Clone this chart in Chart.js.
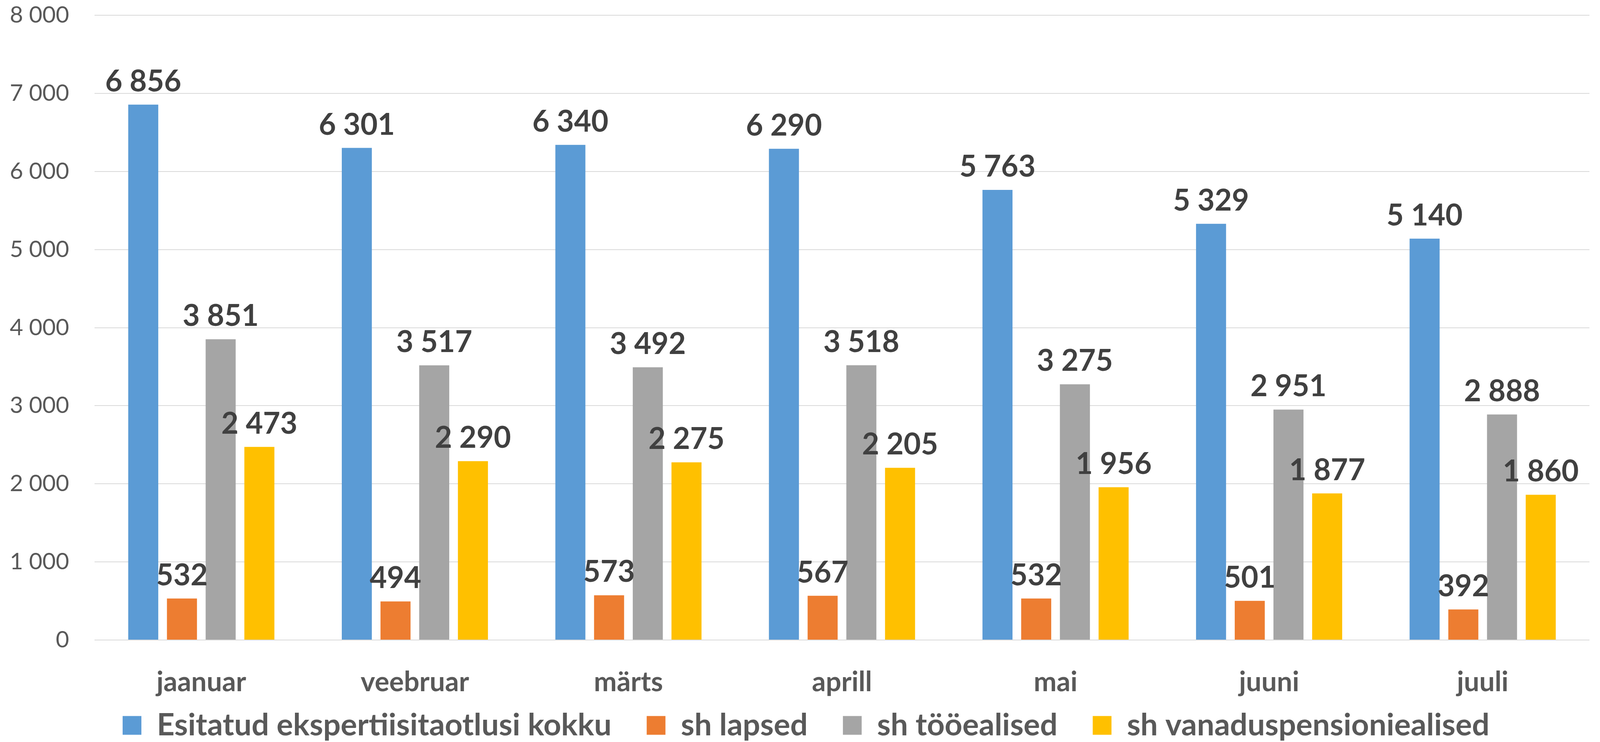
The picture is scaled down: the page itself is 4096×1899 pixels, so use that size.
<!DOCTYPE html>
<html>
<head>
<meta charset="utf-8">
<script src="https://cdn.jsdelivr.net/npm/chart.js@4/dist/chart.umd.min.js"></script>
<style>
  html, body { margin: 0; padding: 0; background: #fff; }
  #wrap { width: 4096px; height: 1899px; }
</style>
</head>
<body>
<div id="wrap"><canvas id="taotlused"></canvas></div>
<script>
// kuud
const kuud = ['jaanuar', 'veebruar', 'märts', 'aprill', 'mai', 'juuni', 'juuli'];

// andmed
const kokku = [6856, 6301, 6340, 6290, 5763, 5329, 5140];
const lapsed = [532, 494, 573, 567, 532, 501, 392];
const tooealised = [3851, 3517, 3492, 3518, 3275, 2951, 2888];
const vanaduspens = [2473, 2290, 2275, 2205, 1956, 1877, 1860];

const yTicks = [0, 1000, 2000, 3000, 4000, 5000, 6000, 7000, 8000];

// tühik tuhandete eraldajaks
function vorming(n) {
    return String(n).replace(/\B(?=(\d{3})+(?!\d))/g, ' ');
}

// väärtused tulpade kohale
const vaartusteSildid = {
    id: 'vaartusteSildid',
    afterDatasetsDraw(chart) {
        const ctx = chart.ctx;
        ctx.save();
        ctx.font = 'bold 76px Lato';
        ctx.fillStyle = '#404040';
        ctx.textAlign = 'center';
        ctx.textBaseline = 'alphabetic';
        chart.data.datasets.forEach((ds, i) => {
            chart.getDatasetMeta(i).data.forEach((bar, j) => {
                ctx.fillText(vorming(ds.data[j]), bar.x, bar.y - 34);
            });
        });
        ctx.restore();
    }
};

// legend allapoole ja veidi paremale, nagu originaalis
const legendiAsukoht = {
    id: 'legendiAsukoht',
    afterLayout(chart) {
        const lg = chart.legend;
        lg.top = 1727;
        lg.bottom = 1899;
        lg.left += 29;
        lg.right += 29;
    }
};

new Chart(document.getElementById('taotlused'), {
    type: 'bar',
    data: {
        labels: kuud,
        datasets: [
            { label: 'Esitatud ekspertiisitaotlusi kokku', data: kokku, backgroundColor: '#5B9BD5' },
            { label: 'sh lapsed', data: lapsed, backgroundColor: '#ED7D31' },
            { label: 'sh tööealised', data: tooealised, backgroundColor: '#A5A5A5' },
            { label: 'sh vanaduspensioniealised', data: vanaduspens, backgroundColor: '#FFC000' }
        ]
    },
    options: {
        responsive: true,
        maintainAspectRatio: false,
        animation: false,
        devicePixelRatio: 1,
        categoryPercentage: 0.725,
        barPercentage: 0.776,
        layout: { padding: { top: 39, right: 27, left: 0, bottom: 0 } },
        scales: {
            x: {
                grid: { display: false },
                border: { display: false },
                ticks: {
                    color: '#595959',
                    font: { family: 'Lato', size: 70, weight: 'bold' },
                    padding: 58,
                    maxRotation: 0
                },
                afterFit(scale) { scale.height = 161; }
            },
            y: {
                min: 0,
                max: 8000,
                afterBuildTicks(scale) { scale.ticks = yTicks.map(v => ({ value: v })); },
                grid: { color: '#D9D9D9', lineWidth: 2, drawTicks: true, tickLength: 65, tickColor: 'rgba(0,0,0,0)' },
                border: { display: false },
                ticks: {
                    color: '#595959',
                    font: { family: 'Lato', size: 59 },
                    padding: 0,
                    callback: v => vorming(v)
                },
                afterFit(scale) { scale.width = 242; }
            }
        },
        plugins: {
            legend: {
                position: 'bottom',
                maxHeight: 100,
                labels: {
                    color: '#595959',
                    font: { family: 'Lato', size: 79, weight: 'bold' },
                    boxWidth: 48,
                    boxHeight: 48,
                    padding: 90
                }
            },
            tooltip: { enabled: false }
        }
    },
    plugins: [vaartusteSildid, legendiAsukoht]
});
</script>
</body>
</html>
